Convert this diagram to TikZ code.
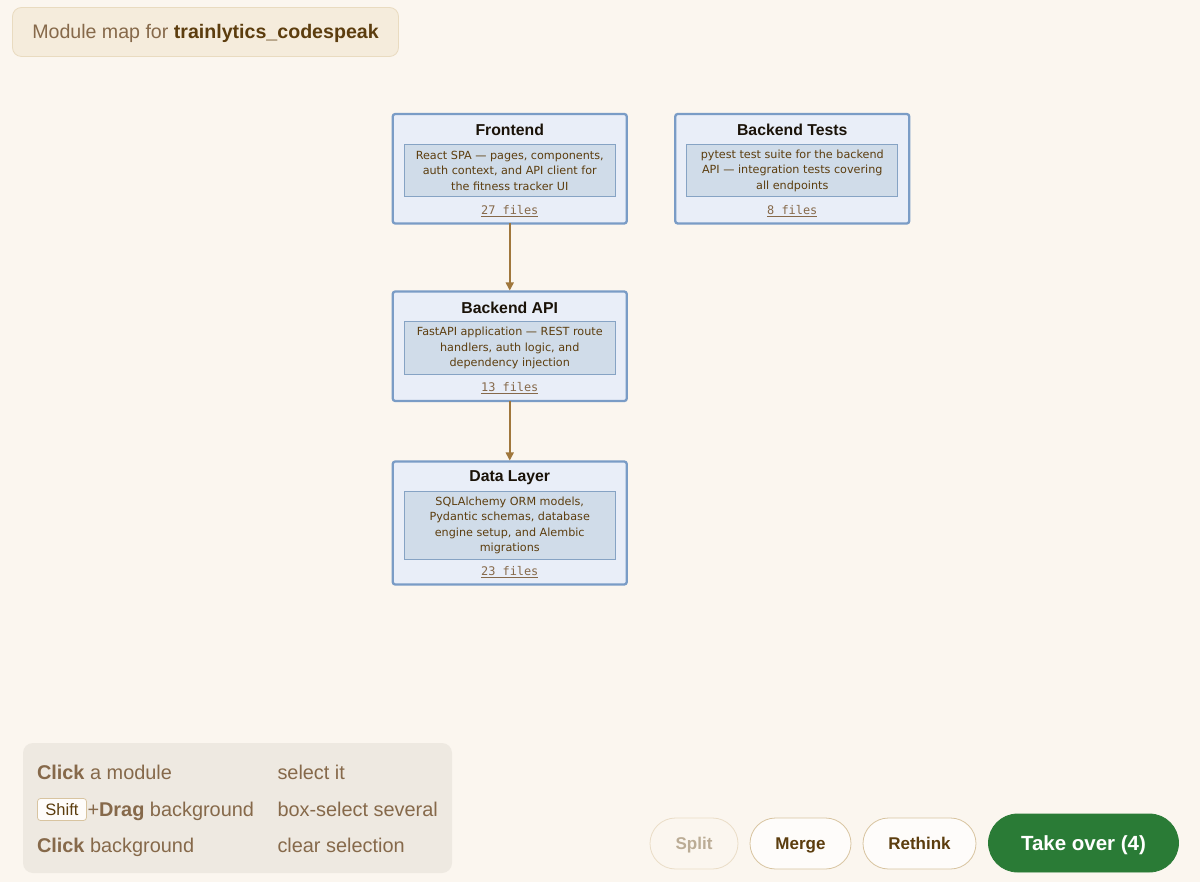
\documentclass[tikz,border=0pt]{standalone}
\usepackage{fontspec}
\setmainfont{Liberation Sans}
\setsansfont{DejaVu Sans}
\setmonofont{DejaVu Sans Mono}
\usetikzlibrary{positioning,arrows.meta,shapes.misc}
\definecolor{pagebg}{HTML}{FBF6EF}
\definecolor{headfill}{HTML}{F5ECDC}
\definecolor{headline}{HTML}{E9DBC0}
\definecolor{hintfill}{HTML}{EEE9E1}
\definecolor{softbrown}{HTML}{86694A}
\definecolor{darkbrown}{HTML}{5C3D0E}
\definecolor{modfill}{HTML}{E9EEF8}
\definecolor{modline}{HTML}{7A9CC6}
\definecolor{descfill}{HTML}{D0DCE9}
\definecolor{descline}{HTML}{86A3C4}
\definecolor{titleink}{HTML}{1A1208}
\definecolor{arrowink}{HTML}{A0773C}
\definecolor{btnline}{HTML}{D8C4A0}
\definecolor{takeover}{HTML}{2A7B36}
\begin{document}
\begin{tikzpicture}[
        x=1pt, y=-1pt,
        every node/.style={outer sep=0pt, inner sep=0pt},
        link/.style={draw=arrowink, line width=1.6pt, shorten >=1pt, -{Triangle[length=8pt,width=8pt]}}
    ]
    \tikzstyle{module} = [
        draw = modline,
        fill = modfill,
        line width = 2.3pt,
        rounded corners = 2.5pt,
        minimum width = 234pt
    ]
    \tikzstyle{modtitle} = [
        text = titleink,
        font = \rmfamily\bfseries\fontsize{15.8}{18}\selectfont
    ]
    \tikzstyle{moddesc} = [
        draw = descline,
        fill = descfill,
        line width = 0.8pt,
        minimum width = 211pt,
        align = center,
        text = darkbrown,
        font = \sffamily\fontsize{11.2}{15.5}\selectfont
    ]
    \tikzstyle{modfiles} = [
        text = softbrown,
        font = \ttfamily\fontsize{11.9}{14}\selectfont
    ]
    \tikzstyle{hint} = [
        anchor = base west,
        text = softbrown,
        font = \fontsize{19.9}{24}\selectfont
    ]
    \tikzstyle{pill} = [
        rounded rectangle,
        draw = btnline,
        fill = white!70!pagebg,
        line width = 0.8pt,
        text = darkbrown,
        text height = 15pt,
        text depth = 4pt,
        font = \bfseries\fontsize{17}{20}\selectfont
    ]

    \useasboundingbox (0,0) rectangle (1200,882);
    \fill [pagebg] (0,0) rectangle (1200,882);

    % header
    \node (header) [draw=headline, fill=headfill, line width=0.8pt, rounded corners=9pt,
        minimum width=386pt, minimum height=49pt, text=softbrown, text height=18pt, text depth=4pt,
        font=\fontsize{19.6}{25}\selectfont] at (205.5,32)
        {Module map for \textcolor{darkbrown}{\bfseries trainlytics\_codespeak}};

    % modules
    \node (frontend) [module, minimum height=109.5pt] at (509.75,168.75) {};
    \node (tests) [module, minimum height=109.5pt, right=48.5pt of frontend] {};
    \node (api) [module, minimum height=109.5pt, below=68pt of frontend] {};
    \node (data) [module, minimum height=123pt, below=60.5pt of api] {};

    \node (frontendtitle) [modtitle] at ([yshift=-16pt]frontend.north) {Frontend};
    \node (frontenddesc) [moddesc, minimum height=52.5pt] at ([yshift=-56.5pt]frontend.north)
        {React SPA — pages, components,\\auth context, and API client for\\the fitness tracker UI};
    \node (frontendfiles) [modfiles] at ([yshift=-97pt]frontend.north) {\underline{27 files}};

    \node (teststitle) [modtitle] at ([yshift=-16pt]tests.north) {Backend Tests};
    \node (testsdesc) [moddesc, minimum height=52.5pt] at ([yshift=-56.5pt]tests.north)
        {pytest test suite for the backend\\API — integration tests covering\\all endpoints};
    \node (testsfiles) [modfiles] at ([yshift=-97pt]tests.north) {\underline{8 files}};

    \node (apititle) [modtitle] at ([yshift=-16pt]api.north) {Backend API};
    \node (apidesc) [moddesc, minimum height=52.5pt] at ([yshift=-56.5pt]api.north)
        {FastAPI application — REST route\\handlers, auth logic, and\\dependency injection};
    \node (apifiles) [modfiles] at ([yshift=-97pt]api.north) {\underline{13 files}};

    \node (datatitle) [modtitle] at ([yshift=-16pt]data.north) {Data Layer};
    \node (datadesc) [moddesc, minimum height=68pt] at ([yshift=-64pt]data.north)
        {SQLAlchemy ORM models,\\Pydantic schemas, database\\engine setup, and Alembic\\migrations};
    \node (datafiles) [modfiles] at ([yshift=-111pt]data.north) {\underline{23 files}};

    \draw [link] (frontend) -- (api);
    \draw [link] (api) -- (data);

    % hints
    \node (hintpanel) [fill=hintfill, rounded corners=10pt, minimum width=429pt,
        minimum height=130pt] at (237.5,808) {};
    \node (clickmodule) [hint] at (37,779) {\textbf{Click} a module};
    \node (selectit) [hint] at (277.5,779) {select it};
    \node (shiftkey) [draw=btnline, fill=white!70!pagebg, line width=0.8pt, rounded corners=3pt,
        minimum width=49pt, minimum height=22pt, text=darkbrown,
        font=\fontsize{16.5}{20}\selectfont] at (62,809.5) {Shift};
    \node (dragback) [hint] at (87.5,816) {+\textbf{Drag} background};
    \node (boxselect) [hint] at (277.5,816) {box-select several};
    \node (clickback) [hint] at (37,852) {\textbf{Click} background};
    \node (clearsel) [hint] at (277.5,852) {clear selection};

    % buttons
    \node (split) [pill, draw=btnline!50!pagebg, fill=pagebg, text=darkbrown!40!pagebg,
        minimum width=88pt, minimum height=51pt] at (694,843.5) {Split};
    \node (merge) [pill, minimum width=101pt, minimum height=51pt] at (800.5,843.5) {Merge};
    \node (rethink) [pill, minimum width=113pt, minimum height=51pt] at (919.5,843.5) {Rethink};
    \node (takeoverbtn) [pill, draw=takeover, fill=takeover, text=white,
        minimum width=190pt, minimum height=58pt, text height=18pt, text depth=4pt,
        font=\bfseries\fontsize{20.5}{24}\selectfont] at (1083.5,843) {Take over (4)};
\end{tikzpicture}
\end{document}
